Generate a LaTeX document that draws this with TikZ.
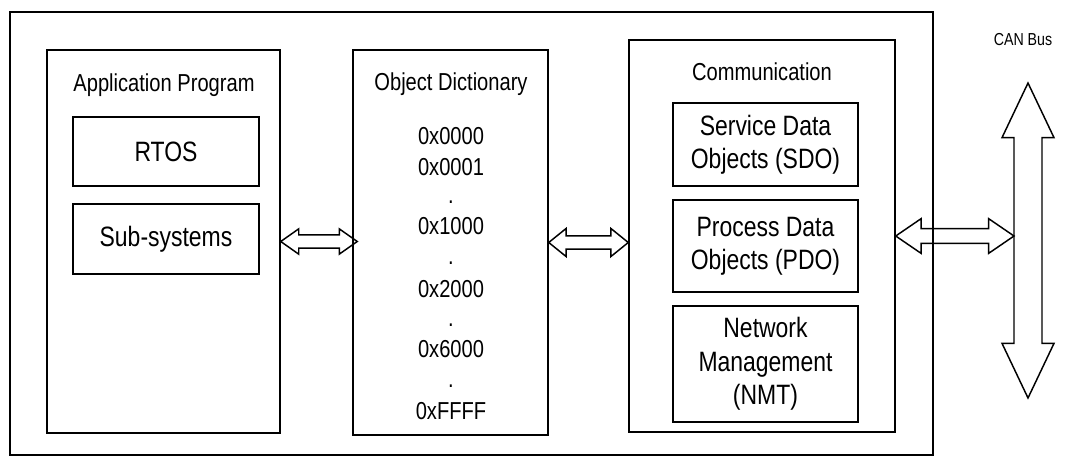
\documentclass[tikz,border=0pt]{standalone}
\usepackage{fontspec}
\setmainfont{Liberation Sans}[FakeStretch=0.82]
\usetikzlibrary{fit,calc}

\tikzset{
  frame/.style={draw, line width=2.2pt, inner sep=0pt},
  panel/.style={draw, line width=1.1pt, inner sep=0pt},
  unitbox/.style={draw, line width=1.1pt, inner sep=0pt},
  lbl/.style={font=\fontsize{18.4}{22}\selectfont, inner sep=0pt},
  big/.style={font=\fontsize{21}{25}\selectfont, align=center, inner sep=0pt},
  hexlbl/.style={font=\fontsize{18.4}{22}\selectfont, anchor=base, inner sep=0pt},
  blockarrow/.style={draw, line width=1.1pt, line join=miter},
}

% horizontal double block arrow: start, end, shaft half-width, head half-width, head length
\newcommand{\harrow}[5]{%
  \draw[blockarrow] let \p1=(#1), \p2=(#2) in
    (\x1,\y1) -- (\x1+#5,\y1+#4) -- (\x1+#5,\y1+#3) -- (\x2-#5,\y1+#3)
    -- (\x2-#5,\y1+#4) -- (\x2,\y1) -- (\x2-#5,\y1-#4) -- (\x2-#5,\y1-#3)
    -- (\x1+#5,\y1-#3) -- (\x1+#5,\y1-#4) -- cycle;}
% vertical double block arrow: top, bottom, shaft half-width, head half-width, head length
\newcommand{\varrow}[5]{%
  \draw[blockarrow] let \p1=(#1), \p2=(#2) in
    (\x1,\y1) -- (\x1+#4,\y1-#5) -- (\x1+#3,\y1-#5) -- (\x1+#3,\y2+#5)
    -- (\x1+#4,\y2+#5) -- (\x1,\y2) -- (\x1-#4,\y2+#5) -- (\x1-#3,\y2+#5)
    -- (\x1-#3,\y1-#5) -- (\x1-#4,\y1-#5) -- cycle;}

\begin{document}
\begin{tikzpicture}[x=0.75pt, y=-0.75pt]
\useasboundingbox (0,0) rectangle (1074,457);

% device boundary
\node[frame, fit={(10,12) (933,455)}] (board) {};

% application program
\node[panel, fit={(47,50) (280,433)}] (app) {};
\node[lbl] (apptitle) at (164,85) {Application Program};
\node[unitbox, fit={(73,117) (259,186)}] (rtos) {};
\node[big] (rtoslbl) at (rtos) {RTOS};
\node[unitbox, fit={(73,204) (259,274)}] (subsys) {};
\node[big] (subsyslbl) at (subsys) {Sub-systems};

% object dictionary
\node[panel, fit={(353,50) (548,435)}] (dict) {};
\node[lbl] (dicttitle) at (451,84) {Object Dictionary};
\node[hexlbl] (h0) at (451,144) {0x0000};
\node[hexlbl] (h1) at (451,175) {0x0001};
\node[hexlbl] (d1) at (451,203) {.};
\node[hexlbl] (h2) at (451,234) {0x1000};
\node[hexlbl] (d2) at (451,264) {.};
\node[hexlbl] (h3) at (451,297) {0x2000};
\node[hexlbl] (d3) at (451,326) {.};
\node[hexlbl] (h4) at (451,357) {0x6000};
\node[hexlbl] (d4) at (451,387) {.};
\node[hexlbl] (h5) at (451,419) {0xFFFF};

% communication
\node[panel, fit={(629,40) (895,432)}] (comm) {};
\node[lbl] (commtitle) at (762,72) {Communication};
\node[unitbox, fit={(673,103) (858,186)}] (sdo) {};
\node[big] (sdolbl) at (sdo) {Service Data\\Objects (SDO)};
\node[unitbox, fit={(673,200) (858,292)}] (pdo) {};
\node[big] (pdolbl) at (pdo) {Process Data\\Objects (PDO)};
\node[unitbox, fit={(673,306) (858,422)}] (nmt) {};
\node[big] (nmtlbl) at (nmt) {Network\\Management\\(NMT)};

% CAN bus
\node[lbl, font=\fontsize{13}{16}\selectfont] (canlbl) at (1023,40) {CAN Bus};
\coordinate (busTop) at (1028,83);
\coordinate (busBot) at (1028,398);
\coordinate (busL) at (1014,237);
\varrow{busTop}{busBot}{10.5pt}{19.5pt}{41pt}

% data paths
\harrow{app.east}{$(dict.west)+(5,0)$}{4.9pt}{9.5pt}{13.5pt}
\harrow{dict.east}{comm.west}{4.9pt}{10.5pt}{13pt}
\harrow{comm.east}{busL}{5.5pt}{13pt}{19pt}
\end{tikzpicture}
\end{document}
